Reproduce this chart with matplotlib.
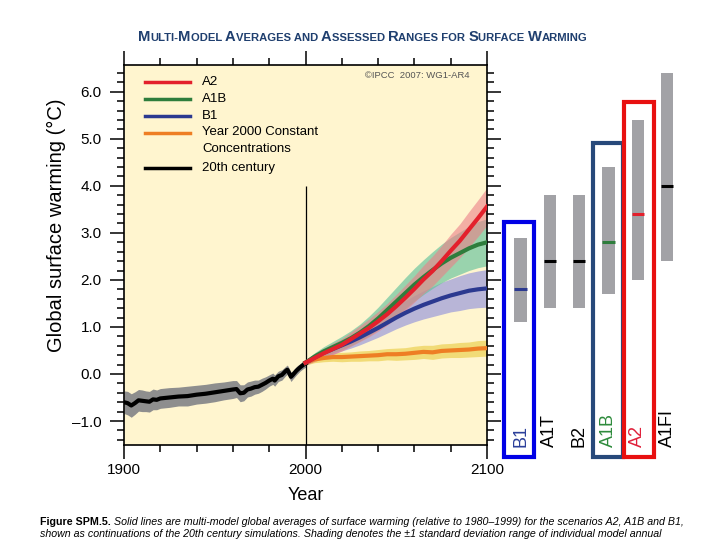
import matplotlib
matplotlib.use('Agg')
import matplotlib.pyplot as plt
from matplotlib.offsetbox import TextArea, HPacker, AnnotationBbox
from matplotlib.patches import Rectangle
from matplotlib.lines import Line2D
from matplotlib.ticker import MultipleLocator, FuncFormatter
import numpy as np

plt.rcParams['font.family'] = ['Liberation Sans', 'DejaVu Sans']

# ---------------- data ----------------
hist_years = [1900, 1902, 1904, 1906, 1908, 1910, 1912, 1914, 1916, 1918, 1920,
              1925, 1930, 1935, 1940, 1945, 1950, 1955, 1960, 1962, 1964, 1966,
              1968, 1970, 1972, 1974, 1976, 1978, 1980, 1982, 1983, 1985, 1987,
              1989, 1990, 1991, 1992, 1993, 1995, 1997, 1999, 2000]
hist_mean = [-0.60, -0.62, -0.67, -0.62, -0.56, -0.57, -0.58, -0.59, -0.54, -0.55, -0.52,
             -0.50, -0.48, -0.47, -0.44, -0.42, -0.39, -0.36, -0.33, -0.32, -0.41, -0.40,
             -0.33, -0.31, -0.28, -0.27, -0.23, -0.19, -0.14, -0.10, -0.14, -0.05, -0.02,
             0.06, 0.09, 0.02, -0.06, -0.02, 0.07, 0.14, 0.20, 0.22]
hist_sd = [0.24, 0.25, 0.25, 0.24, 0.23, 0.23, 0.22, 0.22, 0.22, 0.21, 0.21,
           0.21, 0.20, 0.21, 0.20, 0.20, 0.20, 0.19, 0.19, 0.18, 0.18, 0.17,
           0.16, 0.16, 0.15, 0.14, 0.14, 0.13, 0.12, 0.12, 0.12, 0.11, 0.11,
           0.10, 0.10, 0.10, 0.10, 0.09, 0.09, 0.08, 0.08, 0.08]

scen_years = [2000, 2005, 2010, 2015, 2020, 2025, 2030, 2035, 2040, 2045, 2050,
              2055, 2060, 2065, 2070, 2075, 2080, 2085, 2090, 2095, 2100]
a2_mean = [0.24, 0.34, 0.44, 0.53, 0.62, 0.74, 0.86, 0.98, 1.12, 1.27, 1.44,
           1.62, 1.81, 2.01, 2.19, 2.40, 2.62, 2.83, 3.07, 3.31, 3.56]
a2_sd = [0.05, 0.08, 0.10, 0.12, 0.13, 0.15, 0.17, 0.19, 0.21, 0.23, 0.25,
         0.27, 0.28, 0.30, 0.32, 0.33, 0.35, 0.36, 0.38, 0.39, 0.40]
a1b_mean = [0.24, 0.37, 0.48, 0.57, 0.66, 0.76, 0.88, 1.02, 1.18, 1.36, 1.54,
            1.72, 1.90, 2.06, 2.21, 2.35, 2.47, 2.57, 2.67, 2.75, 2.80]
a1b_sd = [0.05, 0.08, 0.10, 0.12, 0.14, 0.16, 0.18, 0.21, 0.24, 0.27, 0.30,
          0.33, 0.35, 0.37, 0.39, 0.41, 0.43, 0.45, 0.47, 0.49, 0.50]
b1_mean = [0.24, 0.35, 0.45, 0.53, 0.61, 0.69, 0.78, 0.88, 0.98, 1.09, 1.20,
           1.30, 1.39, 1.47, 1.54, 1.61, 1.67, 1.72, 1.77, 1.80, 1.82]
b1_sd = [0.05, 0.07, 0.09, 0.11, 0.12, 0.14, 0.16, 0.18, 0.20, 0.22, 0.24,
         0.26, 0.28, 0.30, 0.32, 0.34, 0.35, 0.37, 0.38, 0.39, 0.40]
const_mean = [0.24, 0.31, 0.34, 0.36, 0.36, 0.37, 0.38, 0.39, 0.40, 0.42, 0.42,
              0.43, 0.45, 0.47, 0.46, 0.49, 0.50, 0.51, 0.52, 0.54, 0.55]
const_sd = [0.05, 0.07, 0.08, 0.09, 0.10, 0.10, 0.11, 0.11, 0.12, 0.12, 0.13,
            0.13, 0.14, 0.14, 0.15, 0.15, 0.15, 0.16, 0.16, 0.17, 0.17]

range_labels = ['B1', 'A1T', 'B2', 'A1B', 'A2', 'A1FI']
range_best = [1.8, 2.4, 2.4, 2.8, 3.4, 4.0]
range_low = [1.1, 1.4, 1.4, 1.7, 2.0, 2.4]
range_high = [2.9, 3.8, 3.8, 4.4, 5.4, 6.4]

legend_labels = ['A2', 'A1B', 'B1', 'Year 2000 Constant\nConcentrations', '20th century']

# ---------------- styles ----------------
BG = '#FFF5CF'
C_A2, C_A1B, C_B1, C_CON = '#E3202C', '#2E7D3C', '#2B3990', '#EE7E24'
F_A2, F_A1B, F_B1, F_CON = '#EC7F88', '#63C29C', '#9A9ADB', '#EDD35A'

fig = plt.figure(figsize=(7.2, 5.4), dpi=100)
fig.patch.set_facecolor('white')

ax = fig.add_axes([124/720, 1-445/540, 363/720, 380/540])
ax.set_facecolor(BG)
ax.set_xlim(1900, 2100)
ax.set_ylim(-1.51, 6.57)

# bands
ax.fill_between(hist_years, np.array(hist_mean)-np.array(hist_sd),
                np.array(hist_mean)+np.array(hist_sd), color='#8E8E8E', lw=0, zorder=2)
for m, s, c, a in [(const_mean, const_sd, F_CON, 0.75), (b1_mean, b1_sd, F_B1, 0.7),
                   (a1b_mean, a1b_sd, F_A1B, 0.65), (a2_mean, a2_sd, F_A2, 0.6)]:
    ax.fill_between(scen_years, np.array(m)-np.array(s), np.array(m)+np.array(s),
                    color=c, alpha=a, lw=0, zorder=2)

ax.plot(hist_years, hist_mean, color='black', lw=3.0, zorder=4)
ax.plot(scen_years, const_mean, color=C_CON, lw=3.0, zorder=4)
ax.plot(scen_years, b1_mean, color=C_B1, lw=3.0, zorder=4)
ax.plot(scen_years, a1b_mean, color=C_A1B, lw=3.0, zorder=4)
ax.plot(scen_years, a2_mean, color=C_A2, lw=3.0, zorder=5)

ax.vlines(2000, -1.51, 4.0, color='black', lw=0.9, zorder=3)

# ticks
ax.xaxis.set_major_locator(MultipleLocator(100))
ax.xaxis.set_minor_locator(MultipleLocator(20))
ax.yaxis.set_major_locator(MultipleLocator(1.0))
ax.yaxis.set_minor_locator(MultipleLocator(0.2))
ax.yaxis.set_major_formatter(FuncFormatter(lambda v, p: ('%.1f' % v).replace('-', '\u2013')))
ax.tick_params(which='both', direction='out', top=True, right=True, width=1.1)
ax.tick_params(which='major', length=10, labelsize=11)
ax.tick_params(which='minor', length=5)
ax.tick_params(axis='y', pad=6)
ax.tick_params(axis='x', pad=3)
for sp in ax.spines.values():
    sp.set_linewidth(1.2)

ax.set_xlabel('Year', fontsize=13, labelpad=7)
ax.set_ylabel('Global surface warming (°C)', fontsize=14.5, va='center')
ax.yaxis.set_label_coords(-0.185, 0.578)

# legend (manual layout)
leg_cols = [C_A2, C_A1B, C_B1, C_CON, 'black']
leg_y = [0.955, 0.911, 0.866, 0.821, 0.729]
for c, yy, t in zip(leg_cols, leg_y, legend_labels):
    ax.add_line(Line2D([0.058, 0.182], [yy, yy], transform=ax.transAxes, color=c, lw=2.5))
    if '\n' in t:
        ax.text(0.215, yy + 0.019, t, transform=ax.transAxes, ha='left', va='top',
                fontsize=9.5, linespacing=1.55)
    else:
        ax.text(0.215, yy, t, transform=ax.transAxes, ha='left', va='center', fontsize=9.5)

ax.text(0.953, 0.972, '©IPCC  2007: WG1-AR4', transform=ax.transAxes, ha='right',
        va='center', fontsize=6.8, color='#555555')

# ---------------- right panel ----------------
ax2 = fig.add_axes([490/720, 1-445/540, 210/720, 380/540])
ax2.set_xlim(-1.041, 6.126)
ax2.set_ylim(-1.51, 6.57)
ax2.axis('off')
xs = np.arange(len(range_labels))
lo = np.array(range_low)
hi = np.array(range_high)
ax2.bar(xs, hi - lo, bottom=lo, width=0.42, color='#A2A2A6', zorder=2)
mean_cols = [C_B1, 'black', 'black', C_A1B, C_A2, 'black']
ax2.hlines(range_best, xs - 0.21, xs + 0.21, colors=mean_cols, lw=2.2, zorder=3)
lab_cols = ['#2B3F9A', 'black', 'black', '#2E8B3C', '#E0203A', 'black']
for x, t, c in zip(xs, range_labels, lab_cols):
    ax2.text(x, -1.55, t, rotation=90, ha='center', va='bottom', fontsize=13,
             color=c, clip_on=False)

boxes = [(0, 3.23, '#0000E6', -0.58, 0.47), (3, 4.91, '#27497A', -0.53, 0.50),
         (4, 5.79, '#E81010', -0.48, 0.55)]
for i, top, col, dl, dr in boxes:
    ax2.add_patch(Rectangle((xs[i] + dl, -1.77), dr - dl, top + 1.77, fill=False,
                            ec=col, lw=3.0, clip_on=False, zorder=4))

# ---------------- title ----------------
tcol = '#1F3F6F'
pieces = [('M', 1), ('ULTI-', 0), ('M', 1), ('ODEL ', 0), ('A', 1), ('VERAGES AND ', 0),
          ('A', 1), ('SSESSED ', 0), ('R', 1), ('ANGES FOR ', 0), ('S', 1), ('URFACE ', 0),
          ('W', 1), ('ARMING', 0)]
areas = [TextArea(p, textprops=dict(fontsize=10.6 if b else 8.1, fontweight='bold', color=tcol))
         for p, b in pieces]
title_box = HPacker(children=areas, align='baseline', pad=0, sep=0)
fig.add_artist(AnnotationBbox(title_box, (138/720, 1-37/540), xycoords='figure fraction',
                              box_alignment=(0, 0.5), frameon=False, pad=0))

# ---------------- caption ----------------
cap1 = HPacker(children=[
    TextArea('Figure SPM.5.', textprops=dict(fontsize=7.7, fontweight='bold')),
    TextArea(' Solid lines are multi-model global averages of surface warming (relative to 1980–1999) '
             'for the scenarios A2, A1B and B1,', textprops=dict(fontsize=7.7, style='italic'))],
    align='baseline', pad=0, sep=0)
fig.add_artist(AnnotationBbox(cap1, (40/720, 1-522/540), xycoords='figure fraction',
                              box_alignment=(0, 0.5), frameon=False, pad=0))
fig.text(40/720, 1-534/540, 'shown as continuations of the 20th century simulations. Shading denotes '
         'the ±1 standard deviation range of individual model annual', fontsize=7.7,
         style='italic', ha='left', va='center')

fig.savefig('out.png', dpi=100)
